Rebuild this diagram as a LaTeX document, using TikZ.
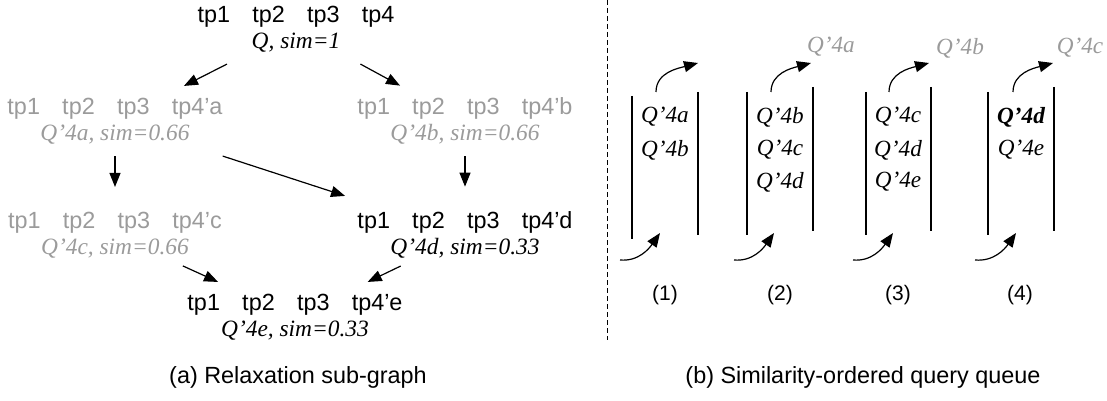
\documentclass[tikz,border=0pt]{standalone}
\usepackage{fontspec}
\setmainfont{Liberation Serif}
\setsansfont{Liberation Sans}
\usepackage{tikz}
\usetikzlibrary{arrows.meta,positioning}
\definecolor{RelaxBlack}{HTML}{000000}
\definecolor{RelaxGray}{HTML}{9B9B9B}
\newcommand{\tprow}[1]{\textsf{tp1\hspace{0.95em}tp2\hspace{0.95em}tp3\hspace{0.95em}tp4#1}}
\tikzset{
    % Query nodes of the relaxation graph
    query/.style={
        inner sep=0pt,
        outer sep=6pt,
        align=center,
        text=RelaxBlack,
        font=\fontsize{11.7}{13}\selectfont
    },
    query relaxed/.style={
        query,
        text=RelaxGray
    },
    arrow/.style={
        -{Triangle[length=7pt,width=5.5pt]},
        line width=0.6pt,
        color=RelaxBlack
    },
    queue wall/.style={
        line width=0.6pt,
        color=RelaxBlack
    },
    queue item/.style={
        inner sep=0pt,
        font=\fontsize{11.6}{11.6}\selectfont\itshape
    },
    popped/.style={
        queue item,
        text=RelaxGray
    },
    step label/.style={
        inner sep=0pt,
        font=\sffamily\fontsize{10.5}{10.5}\selectfont
    },
    caption/.style={
        inner sep=0pt,
        font=\sffamily\fontsize{11.7}{12}\selectfont
    },
    divider/.style={
        line width=0.5pt,
        dash pattern=on 2.5pt off 1.5pt
    }
}
\begin{document}
\begin{tikzpicture}[x=0.5pt, y=-0.5pt]
        \useasboundingbox (0,0) rectangle (1107,401);

        % Relaxation sub-graph
        \node[query] (q) at (296,29) {\tprow{}\\\textit{Q, sim=1}};
        \node[query relaxed] (qa) at (115,121) {\tprow{’a}\\\textit{Q’4a, sim=0.66}};
        \node[query relaxed] (qb) at (465,121) {\tprow{’b}\\\textit{Q’4b, sim=0.66}};
        \node[query relaxed] (qc) at (115,235) {\tprow{’c}\\\textit{Q’4c, sim=0.66}};
        \node[query] (qd) at (465,235) {\tprow{’d}\\\textit{Q’4d, sim=0.33}};
        \node[query] (qe) at (295,317) {\tprow{’e}\\\textit{Q’4e, sim=0.33}};

        % Arrows
        \draw[arrow] (q) -- (qa);
        \draw[arrow] (q) -- (qb);
        \draw[arrow, shorten >=6.5pt] (qa) -- (qc);
        \draw[arrow, shorten >=6.5pt] (qb) -- (qd);
        \draw[arrow, shorten >=6pt] (qa) -- (qd);
        \draw[arrow, shorten <=-5pt] (qc) -- (qe);
        \draw[arrow, shorten <=-5pt] (qd) -- (qe);

        \node[caption] (cap a) at (298,377) {(a) Relaxation sub-graph};

        % Divider
        \draw[divider] (607,0) -- (607,340);

        % Queue (1)
        \draw[queue wall] (632,96) -- (632,239);
        \draw[queue wall] (698,92) -- (698,235);
        \node[queue item] (q1a) at (665,117) {Q’4a};
        \node[queue item] (q1b) at (665,150) {Q’4b};
        \coordinate (push1) at (620,260);
        \coordinate (push1 tip) at (660,233);
        \coordinate (pop1) at (656,92);
        \coordinate (pop1 tip) at (698,63);
        \draw[arrow] (push1) to[out=-5,in=235] (push1 tip);
        \draw[arrow] (pop1) to[out=90,in=195] (pop1 tip);
        \node[step label] (s1) at (665,295) {(1)};

        % Queue (2)
        \draw[queue wall] (747,92) -- (747,235);
        \draw[queue wall] (813,87) -- (813,231);
        \node[queue item] (q2b) at (780,117) {Q’4b};
        \node[queue item] (q2c) at (780,150) {Q’4c};
        \node[queue item] (q2d) at (780,182) {Q’4d};
        \node[popped] (out2) at (831,47) {Q’4a};
        \coordinate (push2) at (734,260);
        \coordinate (push2 tip) at (774,233);
        \coordinate (pop2) at (771,92);
        \coordinate (pop2 tip) at (811,63);
        \draw[arrow] (push2) to[out=-5,in=235] (push2 tip);
        \draw[arrow] (pop2) to[out=90,in=195] (pop2 tip);
        \node[step label] (s2) at (780,295) {(2)};

        % Queue (3)
        \draw[queue wall] (866,92) -- (866,235);
        \draw[queue wall] (931,87) -- (931,231);
        \node[queue item] (q3c) at (898,117) {Q’4c};
        \node[queue item] (q3d) at (898,150) {Q’4d};
        \node[queue item] (q3e) at (898,182) {Q’4e};
        \node[popped] (out3) at (960,48) {Q’4b};
        \coordinate (push3) at (853,260);
        \coordinate (push3 tip) at (893,233);
        \coordinate (pop3) at (889,92);
        \coordinate (pop3 tip) at (929,63);
        \draw[arrow] (push3) to[out=-5,in=235] (push3 tip);
        \draw[arrow] (pop3) to[out=90,in=195] (pop3 tip);
        \node[step label] (s3) at (898,295) {(3)};

        % Queue (4)
        \draw[queue wall] (988,92) -- (988,235);
        \draw[queue wall] (1054,87) -- (1054,231);
        \node[queue item] (q4d) at (1021,117) {\bfseries Q’4d};
        \node[queue item] (q4e) at (1021,150) {Q’4e};
        \node[popped] (out4) at (1080,48) {Q’4c};
        \coordinate (push4) at (975,260);
        \coordinate (push4 tip) at (1016,233);
        \coordinate (pop4) at (1013,92);
        \coordinate (pop4 tip) at (1053,63);
        \draw[arrow] (push4) to[out=-5,in=235] (push4 tip);
        \draw[arrow] (pop4) to[out=90,in=195] (pop4 tip);
        \node[step label] (s4) at (1020,295) {(4)};

        \node[caption] (cap b) at (863,377) {(b) Similarity-ordered query queue};
    \end{tikzpicture}
\end{document}
